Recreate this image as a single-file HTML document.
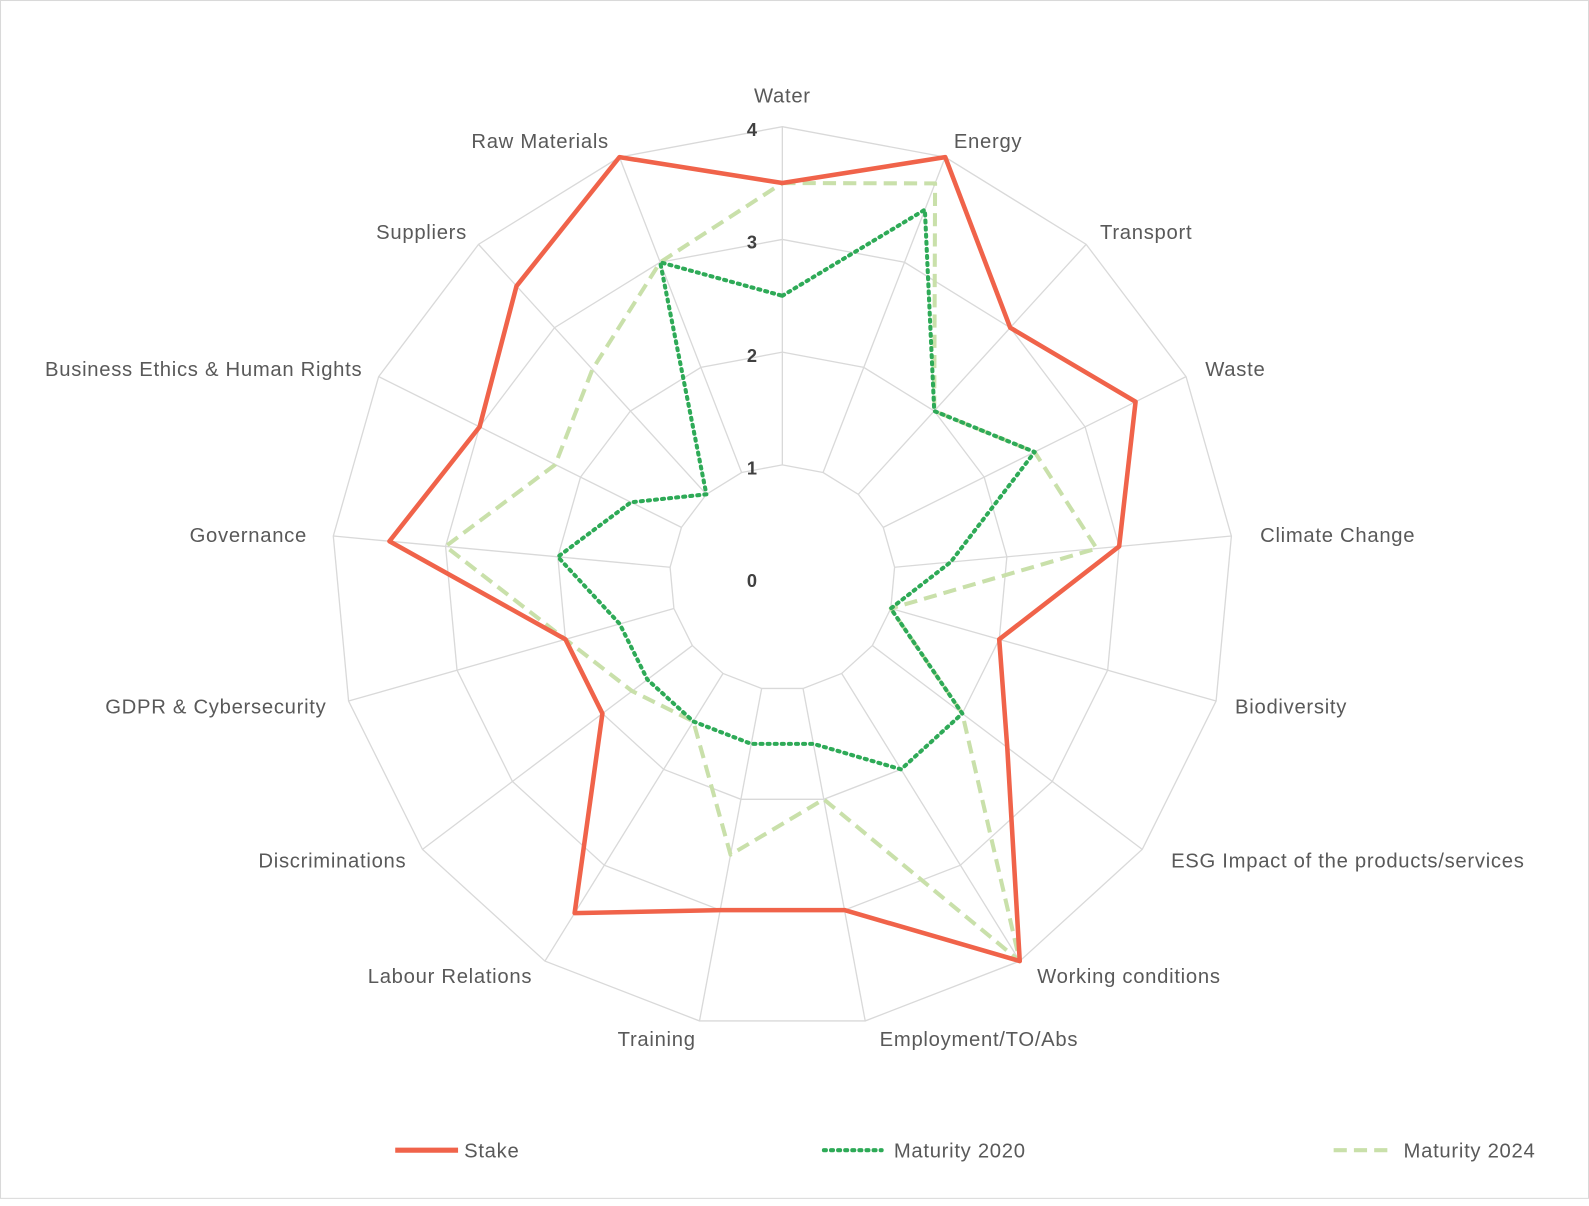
<!DOCTYPE html>
<html><head><meta charset="utf-8"><style>
html,body{margin:0;padding:0;background:#fff;}
svg text{font-family:"Liberation Sans",sans-serif;fill:#595959;}
.lab text{letter-spacing:0.7px;}
</style></head><body>
<svg id="s" width="1589" height="1201" viewBox="0 0 1589 1201" xmlns="http://www.w3.org/2000/svg">
<g transform="scale(1.0134)">
<rect x="0.5" y="0.5" width="1567" height="1182" fill="#fff" stroke="#d9d9d9"/>
<g id="grid"></g>
<g id="series"></g>
<g class="lab" font-size="20" text-anchor="middle">
<text x="772" y="101">Water</text>
<text x="975" y="146">Energy</text>
<text x="1131" y="236">Transport</text>
<text x="1219" y="371">Waste</text>
<text x="1320" y="535">Climate Change</text>
<text x="1274" y="704">Biodiversity</text>
<text x="1330" y="856">ESG Impact of the products/services</text>
<text x="1114" y="970">Working conditions</text>
<text x="966" y="1032">Employment/TO/Abs</text>
<text x="648" y="1032">Training</text>
<text x="444" y="970">Labour Relations</text>
<text x="328" y="856">Discriminations</text>
<text x="213" y="704">GDPR &amp; Cybersecurity</text>
<text x="245" y="535">Governance</text>
<text x="201" y="371">Business Ethics &amp; Human Rights</text>
<text x="416" y="236">Suppliers</text>
<text x="533" y="146">Raw Materials</text>
</g>
<g font-size="18" font-weight="bold" text-anchor="middle">
<text x="742" y="134" style="fill:#404040">4</text>
<text x="742" y="245" style="fill:#404040">3</text>
<text x="742" y="357" style="fill:#404040">2</text>
<text x="742" y="468" style="fill:#404040">1</text>
<text x="742" y="579" style="fill:#404040">0</text>
</g>
<g class="lab" font-size="20">
<line x1="390" y1="1135" x2="452" y2="1135" stroke="#f0634a" stroke-width="5"/>
<text x="458" y="1142">Stake</text>
<line x1="813" y1="1135" x2="870" y2="1135" stroke="#2eaa57" stroke-width="4" stroke-dasharray="2,5" stroke-linecap="round"/>
<text x="882" y="1142">Maturity 2020</text>
<line x1="1316" y1="1135" x2="1373" y2="1135" stroke="#c9e0aa" stroke-width="4" stroke-dasharray="13,7"/>
<text x="1385" y="1142">Maturity 2024</text>
</g>
</g>
</svg>
<script>
var cx=772,cy=570,R=445,N=17;
function pt(i,v){var a=2*Math.PI*i/N,r=R*v/4;return [cx+r*Math.sin(a),cy-r*Math.cos(a)];}
var g=document.getElementById('grid'),h='';
for(var k=1;k<=4;k++){var p=[];for(var i=0;i<N;i++)p.push(pt(i,k).join(','));h+='<polygon points="'+p.join(' ')+'" fill="none" stroke="#d9d9d9" stroke-width="1.3"/>';}
for(var i=0;i<N;i++){var a=pt(i,1),b=pt(i,4);h+='<line x1="'+a[0]+'" y1="'+a[1]+'" x2="'+b[0]+'" y2="'+b[1]+'" stroke="#d9d9d9" stroke-width="1.3"/>';}
g.innerHTML=h;
var S=[[3.5,4,3,3.5,3,2,2.5,4,3,3,3.5,2,2,3.5,3,3.5,4],
[2.5,3.5,2,2.5,1.5,1,2,2,1.5,1.5,1.5,1.5,1.5,2,1.5,1,3],
[3.5,3.75,2,2.5,2.8,1,2,4,2,2.5,1.5,1.67,2,3,2.25,2.5,3]];
var st=['stroke="#f0634a" stroke-width="4.5"','stroke="#2eaa57" stroke-width="4" stroke-dasharray="2,5" stroke-linecap="round"','stroke="#c9e0aa" stroke-width="4" stroke-dasharray="13,7"'];
var o='';
[2,1,0].forEach(function(j){var p=[];for(var i=0;i<N;i++)p.push(pt(i,S[j][i]).join(','));o+='<polygon points="'+p.join(' ')+'" fill="none" '+st[j]+' stroke-linejoin="round"/>';});
document.getElementById('series').innerHTML=o;
</script>
</body></html>
